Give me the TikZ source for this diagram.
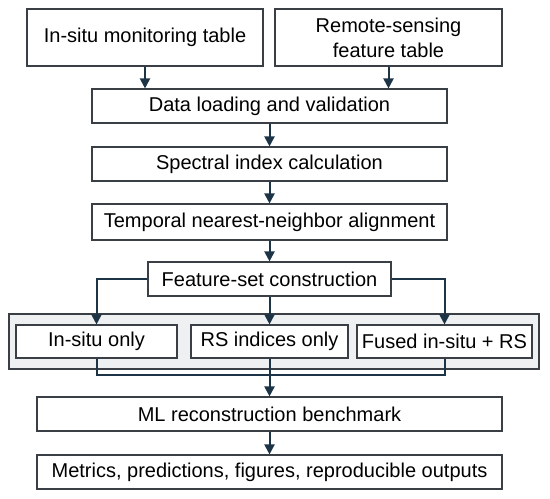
\documentclass[tikz,border=0pt]{standalone}
\usepackage{fontspec}
\setmainfont{Liberation Sans}
\usetikzlibrary{arrows.meta}
\definecolor{boxline}{HTML}{3A3F45}
\definecolor{arrowblue}{HTML}{1D3446}
\definecolor{panelfill}{HTML}{EEF0F2}

\begin{document}
\begin{tikzpicture}[
                x=1bp, y=-1bp,
                font=\fontsize{20bp}{25bp}\selectfont,
                % Stile per i blocchi
                box/.style={
                    draw=boxline,
                    line width=1.1bp,
                    fill=white,
                    align=center,
                    inner sep=0pt,
                    minimum height=34bp
                },
                flow/.style={draw=arrowblue, line width=2bp, -{Triangle[length=10bp,width=10bp]}},
                link/.style={draw=arrowblue, line width=2bp}
            ]
                \useasboundingbox (0,0) rectangle (550,499);

                % --- Tabelle di ingresso ---
                \node[box, minimum width=236bp, minimum height=57bp] (insitu) at (145,37.5) {In-situ monitoring table};
                \node[box, minimum width=227bp, minimum height=57bp] (remote) at (388.5,37.5) {Remote-sensing\\feature table};

                % --- Catena di elaborazione ---
                \node[box, minimum width=355bp] (load) at (269.5,106) {Data loading and validation};
                \node[box, minimum width=355bp] (index) at (269.5,164) {Spectral index calculation};
                \node[box, minimum width=355bp, minimum height=36bp] (align) at (269.5,222) {Temporal nearest-neighbor alignment};
                \node[box, minimum width=243bp] (featset) at (269.5,279) {Feature-set construction};

                % --- Pannello dei tre insiemi ---
                \node[draw=boxline, fill=panelfill, line width=1.1bp, inner sep=0pt,
                      minimum width=530bp, minimum height=55bp] (panel) at (274,341.5) {};
                \node[box, minimum width=161bp, minimum height=33bp] (onlyis) at (96.5,341.5) {In-situ only};
                \node[box, minimum width=157bp, minimum height=33bp] (onlyrs) at (269.5,341.5) {RS indices only};
                \node[box, minimum width=175bp, minimum height=33bp] (fused) at (444.5,341.5) {Fused in-situ + RS};
                \coordinate (merge) at (269.5,375);

                % --- Benchmark e uscite ---
                \node[box, minimum width=465bp] (bench) at (269.5,414) {ML reconstruction benchmark};
                \node[box, minimum width=465bp] (outputs) at (269.5,472) {Metrics, predictions, figures, reproducible outputs};

                % --- Frecce ---
                \draw[flow] (insitu.south) -- (insitu.south |- load.north);
                \draw[flow] (remote.south) -- (remote.south |- load.north);
                \draw[flow] (load) -- (index);
                \draw[flow] (index) -- (align);
                \draw[flow] (align) -- (featset);
                \draw[flow] (featset.west) -| (onlyis.north);
                \draw[flow] (featset) -- (onlyrs);
                \draw[flow] (featset.east) -| (fused.north);

                % Ricongiungimento
                \draw[link] (onlyis.south) -- (onlyis.south |- merge) -- (fused.south |- merge) -- (fused.south);
                \draw[link] (onlyrs.south) -- (merge);
                \draw[flow] (merge) -- (bench);
                \draw[flow] (bench) -- (outputs);

            \end{tikzpicture}
\end{document}
